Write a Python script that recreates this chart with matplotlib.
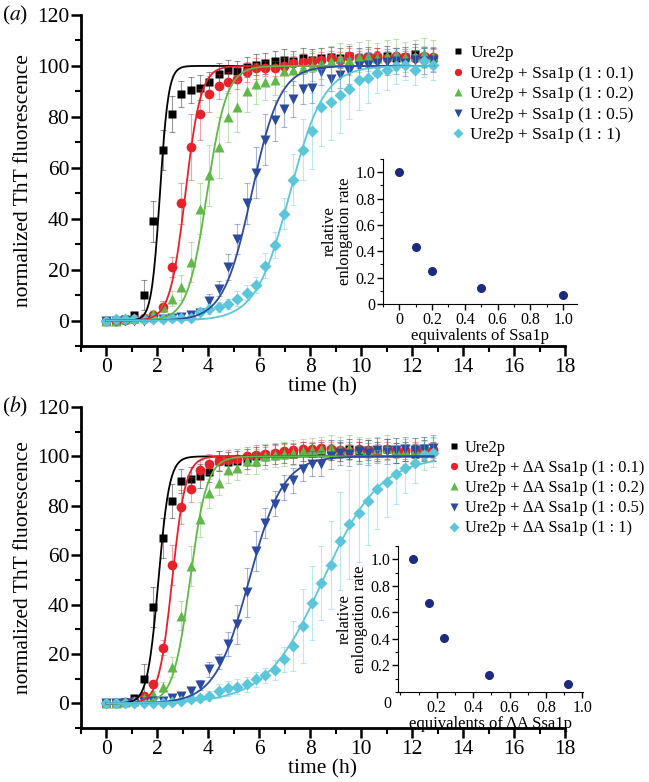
import numpy as np
import matplotlib
matplotlib.use("Agg")
import matplotlib.pyplot as plt
from matplotlib.ticker import MultipleLocator

plt.rcParams['font.family'] = ['Liberation Serif', 'DejaVu Serif']
plt.rcParams['mathtext.fontset'] = 'stix'

# time points (h), one reading every ~22 min
time_h = [0, 0.37, 0.73, 1.1, 1.47, 1.83, 2.2, 2.57, 2.93, 3.3, 3.67, 4.03,
          4.4, 4.77, 5.13, 5.5, 5.87, 6.23, 6.6, 6.97, 7.33, 7.7, 8.07, 8.43,
          8.8, 9.17, 9.53, 9.9, 10.27, 10.63, 11.0, 11.37, 11.73, 12.1, 12.47, 12.83]

# ---- panel (a) : Ure2p + Ssa1p
a_ure2p = [0, 0, 0.5, 2, 10, 39, 67, 81, 89, 90.5, 91.5, 93.5, 97, 98.5, 98, 99.5, 100.5, 101,
           102, 102.5, 102, 103, 102.5, 103, 103.5, 103, 104, 103, 103.5, 103, 104, 103, 103.5, 104.5, 103.5, 103]
a_01 = [0, 0, 0.3, 0.5, 1, 2, 5.5, 21, 46, 68, 81, 89, 92, 93.5, 95, 97.5, 99, 99,
        99, 100, 101, 101.5, 102, 102.5, 103, 102.5, 104, 103, 103.5, 104, 103, 104, 103.5, 103, 104, 103.5]
a_02 = [0, 0, 0.5, 1, 1.5, 2.5, 5.5, 8.6, 13, 23, 44, 57, 68, 80, 84, 90, 93, 93.5,
        94.5, 98, 98.5, 99, 100, 101, 102, 103, 102.5, 103.5, 104, 103, 104, 104.5, 103.5, 104, 105, 104]
a_05 = [0, 0, 0, 0, 0, 0.3, 0.5, 1, 1.5, 2, 3, 7.5, 12.5, 21, 32, 46, 58, 71,
        78.6, 83, 87, 91, 91.5, 97.6, 95, 96.5, 98, 100, 100.5, 101, 101.5, 102, 101, 102.5, 102, 102.5]
a_1 = [0, 0.5, 0.5, 0.5, 0.5, 0.5, 0.5, 1, 1, 1, 3.5, 4.5, 5.4, 6.6, 8.6, 11, 14, 21.6,
       29.6, 42, 55.3, 67, 74.4, 83.7, 86, 88.6, 91, 94.6, 95.3, 97.2, 98.5, 99.9, 100.5, 98.5, 101.8, 100.5]

a_ure2p_err = [1, 1, 1, 1.5, 6, 8, 8, 7, 5, 5, 5, 4, 4, 4, 4, 4, 4, 4,
               4, 4, 4, 4, 4, 4, 4, 4, 4, 4, 4, 4, 4, 4, 4, 4, 4, 4]
a_01_err = [1, 1, 1, 1, 1, 1.5, 2, 4, 8, 13, 10, 7, 5, 4, 4, 4, 4, 3,
            3, 3, 3, 3, 3, 3, 3, 3, 3, 3, 3, 3, 3, 3, 3, 3, 3, 3]
a_02_err = [1, 1, 1, 1, 1, 1.5, 2, 3, 5, 8, 10, 12, 12, 10, 10, 8, 8, 7,
            6, 6, 6, 6, 6, 6, 6, 6, 6, 6, 6, 6, 6, 6, 6, 6, 6, 6]
a_05_err = [1, 1, 1, 1, 1, 1, 1, 1, 1, 1.5, 2, 3, 3, 5, 6, 8, 10, 10,
            8, 7, 7, 6, 6, 5, 5, 5, 5, 5, 5, 5, 5, 5, 5, 5, 5, 5]
a_1_err = [1, 1, 1, 1, 1, 1, 1, 1, 1, 1, 1.5, 2, 2, 2, 3, 3, 3, 5,
           5, 6, 10, 12, 15, 15, 15, 15, 12, 12, 10, 8, 8, 7, 6, 6, 6, 6]

# sigmoid fit parameters (midpoint t50 in h, rate k in 1/h)
a_fit_t50 = [2.1, 3.1, 3.95, 5.7, 7.2]
a_fit_k = [6.0, 3.3, 2.6, 1.8, 1.5]

# inset (a)
a_equiv = [0, 0.1, 0.2, 0.5, 1.0]
a_rate = [1.0, 0.43, 0.25, 0.12, 0.07]

# ---- panel (b) : Ure2p + dA Ssa1p
b_ure2p = [0, 0, 0.5, 2, 10, 39, 67, 82, 90, 90.7, 92, 93.7, 98, 97.7, 98, 99, 100, 100.5,
           101, 101.5, 101, 102, 101.5, 102, 102.5, 102, 103, 102, 102.5, 102, 103, 101.5, 102, 101, 102.5, 102]
b_01 = [0, 0, 0.5, 1, 3, 7.7, 22.5, 56, 79.5, 86.6, 94.5, 97, 98, 98.5, 99, 100, 100.5, 101,
        101.5, 102, 102.5, 103, 103, 103.5, 103, 102.5, 102, 103, 102.5, 102, 103, 102.5, 102, 103, 102, 102.5]
b_02 = [0, 0, 0.5, 1, 2, 3.6, 6.6, 14.6, 35.5, 55.6, 74.5, 85, 89.4, 94.3, 95.4, 98, 98, 100,
        100.5, 101, 101.5, 102, 102.5, 103, 103.5, 103, 103.5, 103, 102.5, 103, 103.5, 102.5, 102, 102.5, 103, 103]
b_05 = [0, 0, 0, 0.3, 0.5, 1, 1, 2, 3, 5, 7.3, 13.8, 17, 24, 32, 45, 61.7, 73,
        80.8, 87.3, 90.3, 95, 97, 97, 100, 101.5, 101, 102, 101.5, 102.5, 102, 102.5, 103, 102.5, 103, 103.5]
b_1 = [0, 0, 0, 0, 0, 0, 0, 0.5, 1, 1.6, 2, 3, 5, 6, 6.8, 7.7, 9.7, 11.3,
       13.4, 17.8, 23.2, 31.3, 40.5, 48.9, 56, 65.7, 72.5, 77.2, 82, 86.6, 89.6, 92.7, 95.1, 97.4, 100.4, 101.5]

b_ure2p_err = [1, 1, 1, 1.5, 6, 8, 8, 7, 5, 5, 5, 4, 4, 4, 4, 4, 4, 4,
               4, 4, 4, 4, 4, 4, 4, 4, 4, 4, 4, 4, 4, 4, 4, 4, 4, 4]
b_01_err = [1, 1, 1, 1, 1, 1.5, 3, 8, 7, 5, 4, 4, 4, 4, 4, 4, 4, 3,
            3, 3, 3, 3, 3, 3, 3, 3, 3, 3, 3, 3, 3, 3, 3, 3, 3, 3]
b_02_err = [1, 1, 1, 1, 1, 1.5, 2, 4, 6, 8, 7, 6, 5, 5, 5, 5, 5, 5,
            5, 5, 5, 5, 5, 5, 5, 5, 5, 5, 5, 5, 5, 5, 5, 5, 5, 5]
b_05_err = [1, 1, 1, 1, 1, 1, 1, 1, 1, 1.5, 2, 3, 3, 5, 8, 10, 8, 6,
            5, 5, 5, 5, 5, 5, 5, 5, 5, 5, 5, 5, 5, 5, 5, 5, 5, 5]
b_1_err = [1, 1, 1, 1, 1, 1, 1, 1, 1, 1, 1.5, 2, 3, 3, 3, 3, 3, 3,
           4, 5, 10, 15, 15, 15, 18, 20, 22, 20, 18, 16, 14, 12, 10, 8, 6, 6]

b_fit_t50 = [2.04, 2.58, 3.28, 5.6, 8.5]
b_fit_k = [4.6, 3.8, 3.0, 1.5, 0.9]

b_equiv = [0.067, 0.155, 0.24, 0.49, 0.92]
b_rate = [1.0, 0.67, 0.41, 0.13, 0.06]

a_labels = ['Ure2p', 'Ure2p + Ssa1p (1 : 0.1)', 'Ure2p + Ssa1p (1 : 0.2)',
            'Ure2p + Ssa1p (1 : 0.5)', 'Ure2p + Ssa1p (1 : 1)']
b_labels = ['Ure2p', 'Ure2p + ΔA Ssa1p (1 : 0.1)', 'Ure2p + ΔA Ssa1p (1 : 0.2)',
            'Ure2p + ΔA Ssa1p (1 : 0.5)', 'Ure2p + ΔA Ssa1p (1 : 1)']

colors = ['#000000', '#e8202a', '#5fb847', '#2c4a9e', '#5bc6da']
markers = ['s', 'o', '^', 'v', 'D']
msizes = [6, 7, 7.5, 7.5, 6.5]

W, H = 649, 782
fig = plt.figure(figsize=(W / 100, H / 100), dpi=100)


def fig_rect(left, top, right, bottom):
    return [left / W, 1 - bottom / H, (right - left) / W, (bottom - top) / H]


def main_panel(rect, series, errs, t50s, ks, labels, leg_xy, leg_fs, tag):
    ax = fig.add_axes(rect)
    tt = np.linspace(0, time_h[-1], 400)
    handles = []
    for i in range(5):
        ax.errorbar(time_h, series[i], yerr=errs[i], fmt='none', ecolor=colors[i],
                    alpha=0.4, elinewidth=0.8, capsize=2.5, capthick=0.8, zorder=2 + i)
        h, = ax.plot(time_h, series[i], ls='none', marker=markers[i], ms=msizes[i],
                     color=colors[i], mec='none', label=labels[i], zorder=3 + i)
        handles.append(h)
    for i in range(5):
        fit = 100 / (1 + np.exp(-ks[i] * (tt - t50s[i])))
        ax.plot(tt, fit, color=colors[i], lw=1.3, zorder=10)

    ax.set_xlim(-1, 18)
    ax.set_ylim(-10, 120)
    ax.set_xticks(range(0, 19, 2))
    ax.set_yticks(range(0, 121, 20))
    ax.xaxis.set_minor_locator(MultipleLocator(1))
    ax.yaxis.set_minor_locator(MultipleLocator(10))
    for s in ['top', 'right']:
        ax.spines[s].set_visible(False)
    for s in ['left', 'bottom']:
        ax.spines[s].set_linewidth(2)
    ax.tick_params(which='major', direction='out', length=7, width=1.8,
                   labelsize=15.5, pad=1.5)
    ax.tick_params(which='minor', direction='out', length=4, width=1.5)
    ax.set_xlabel('time (h)', fontsize=15.5, labelpad=0)
    ax.set_ylabel('normalized ThT fluorescence', fontsize=15.5, labelpad=3)

    fig.legend(handles=handles, loc='upper left',
               bbox_to_anchor=(leg_xy[0] / W, 1 - leg_xy[1] / H),
               frameon=False, fontsize=leg_fs, handlelength=0.8, handletextpad=0.3,
               labelspacing=0.25, borderpad=0, borderaxespad=0, numpoints=1,
               markerscale=0.75)
    fig.text(2 / W, rect[1] + rect[3], '(' + r'$\it{' + tag + '}$' + ')',
             fontsize=15.5, ha='left', va='center')
    return ax


def inset(rect, equiv, rate, xlim, xlabel, zero_corner):
    ax = fig.add_axes(rect)
    ax.plot(equiv, rate, ls='none', marker='o', ms=5.5, color='#1d2a7e')
    ax.set_xlim(*xlim)
    ax.set_ylim(0, 1.1)
    for s in ['top', 'right']:
        ax.spines[s].set_visible(False)
    ticks = [0, 0.2, 0.4, 0.6, 0.8, 1.0]
    names = ['0', '0.2', '0.4', '0.6', '0.8', '1.0']
    if zero_corner:
        ticks, names = ticks[1:], names[1:]
        ax.text(-0.06, -0.085, '0', transform=ax.transAxes, fontsize=11.5,
                ha='center', va='center')
    ax.set_xticks(ticks)
    ax.set_xticklabels(names)
    ax.set_yticks(ticks)
    ax.set_yticklabels(names)
    ax.xaxis.set_minor_locator(MultipleLocator(0.1))
    ax.yaxis.set_minor_locator(MultipleLocator(0.1))
    ax.tick_params(which='major', direction='out', length=4, width=1,
                   labelsize=11.5, pad=1.5)
    ax.tick_params(which='minor', direction='out', length=2.5, width=0.8)
    ax.set_xlabel(xlabel, fontsize=12, labelpad=0)
    ax.set_ylabel('relative\nenlongation rate', fontsize=12, labelpad=2, linespacing=0.9)
    ax.patch.set_alpha(0)
    return ax


main_panel(fig_rect(81, 15, 565, 346), [a_ure2p, a_01, a_02, a_05, a_1],
           [a_ure2p_err, a_01_err, a_02_err, a_05_err, a_1_err],
           a_fit_t50, a_fit_k, a_labels, (451, 45), 12.5, 'a')
inset(fig_rect(383, 159, 577, 304), a_equiv, a_rate, (-0.1, 1.085),
      'equivalents of Ssa1p', False)

main_panel(fig_rect(81, 407, 565, 728), [b_ure2p, b_01, b_02, b_05, b_1],
           [b_ure2p_err, b_01_err, b_02_err, b_05_err, b_1_err],
           b_fit_t50, b_fit_k, b_labels, (447, 440), 11.8, 'b')
inset(fig_rect(398, 546, 583, 692), b_equiv, b_rate, (-0.013, 1.004),
      'equivalents of ΔA Ssa1p', True)

fig.savefig('out.png', dpi=100)
